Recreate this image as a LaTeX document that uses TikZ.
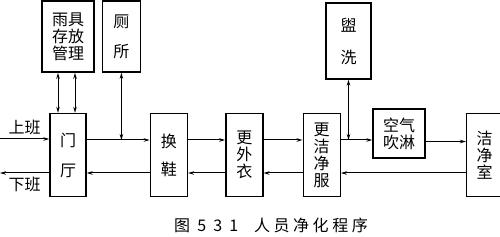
\documentclass[tikz,border=0pt]{standalone}
\usepackage{fontspec}
\setmainfont{Noto Sans CJK SC}
\newfontfamily\capfont{Noto Sans CJK SC}[LetterSpace=22]
\usetikzlibrary{arrows.meta, positioning}

\begin{document}
\begin{tikzpicture}[
    x=1pt, y=-1pt,
    >={Stealth[length=6pt,width=3.5pt]},
    font=\fontsize{16}{17}\selectfont,
    stagebox/.style={
        draw, line width=1.4pt, inner sep=0pt, align=center,
        minimum width=37pt, minimum height=83pt,
    },
    sidebox/.style={
        draw, line width=1.4pt, inner sep=0pt, align=center,
        minimum height=71pt,
    },
    arr/.style={->, line width=1pt},
    twoway/.style={<->, line width=1pt},
]
\useasboundingbox (0,0) rectangle (500,237);

% Main row of stages
\node[stagebox, minimum width=36pt] (menting) at (68,155) {门\\[13pt]厅};
\node[stagebox, right=63pt of menting] (huanxie) {换\\[11pt]鞋};
\node[stagebox, right=37pt of huanxie] (gengwaiyi) {更\\外\\衣};
\node[stagebox, right=39pt of gengwaiyi] (gengjie) {更\\洁\\净\\服};
\node[stagebox, minimum width=36pt, right=125pt of gengjie] (jiejing) {洁\\净\\室};

% Side rooms
\node[sidebox, minimum width=52pt, above=40pt of menting] (yuju) {雨具\\存放\\管理};
\node[sidebox, minimum width=38pt, right=7pt of yuju] (cesuo) {厕\\[13pt]所};
\node[sidebox, minimum width=45pt, minimum height=76pt] (guanxi) at (348.5,41) {盥\\[15pt]洗};
\node[sidebox, minimum width=52pt, minimum height=49pt] (kongqi) at (399,133.5) {空气\\吹淋};

% Entry and exit
\coordinate (onduty) at (0,139);
\coordinate (offduty) at (0,173);
\draw[arr] (onduty) -- (onduty -| menting.west)
    node[midway, above=0pt] {上班};
\draw[arr] (offduty -| menting.west) -- (offduty)
    node[midway, below=0pt] {下班};

% Inward flow
\draw[arr] ([yshift=15pt]menting.east) -- ([yshift=15pt]menting.east -| huanxie.west);
\draw[arr] ([yshift=15pt]huanxie.east) -- ([yshift=15pt]huanxie.east -| gengwaiyi.west);
\draw[arr] ([yshift=15pt]gengwaiyi.east) -- ([yshift=15pt]gengwaiyi.east -| gengjie.west);
\draw[arr] ([yshift=15pt]gengjie.east) -- ([yshift=15pt]gengjie.east -| kongqi.west);
\draw[arr] ([yshift=-8pt]kongqi.east) -- ([yshift=-8pt]kongqi.east -| jiejing.west);

% Outward flow
\draw[arr] ([yshift=-18pt]huanxie.west) -- ([yshift=-18pt]huanxie.west -| menting.east);
\draw[arr] ([yshift=-18pt]gengwaiyi.west) -- ([yshift=-18pt]gengwaiyi.west -| huanxie.east);
\draw[arr] ([yshift=-18pt]gengjie.west) -- ([yshift=-18pt]gengjie.west -| gengwaiyi.east);
\draw[arr] ([yshift=-18pt]jiejing.west) -- ([yshift=-18pt]jiejing.west -| gengjie.east);

% Side room links
\coordinate (toiletjoin) at ([yshift=15pt]cesuo.south |- menting.east);
\coordinate (washjoin) at ([yshift=15pt]guanxi.south |- gengjie.east);
\draw[twoway] ([xshift=-10pt]yuju.south) -- ([xshift=-10pt]yuju.south |- menting.north);
\draw[twoway] ([xshift=7pt]yuju.south) -- ([xshift=7pt]yuju.south |- menting.north);
\draw[twoway] (cesuo.south) -- (toiletjoin);
\draw[twoway] (guanxi.south) -- (washjoin);

% Caption
\node[font=\capfont\fontsize{16}{17}\selectfont] (caption) at (271,225) {图 5 3 1\quad 人员净化程序};

\end{tikzpicture}
\end{document}
